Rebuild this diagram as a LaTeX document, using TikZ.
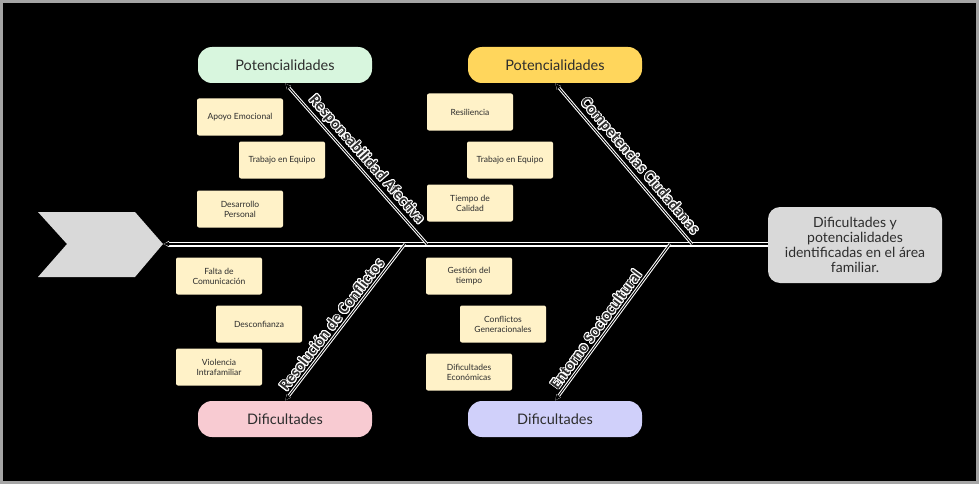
\documentclass[tikz,border=0pt]{standalone}
\usepackage{fontspec}
\setmainfont{Lato}
\newfontfamily\ramafont{Carlito}
\usepackage{contour}
\contourlength{0.9pt}
\usetikzlibrary{arrows.meta}
\definecolor{marco-gris}{RGB}{165,165,165}
\definecolor{caja-gris}{RGB}{217,217,217}
\definecolor{verde-pot}{RGB}{216,246,222}
\definecolor{amarillo-pot}{RGB}{255,214,92}
\definecolor{rosa-dif}{RGB}{248,203,210}
\definecolor{lila-dif}{RGB}{208,208,250}
\definecolor{crema}{RGB}{255,242,200}
\definecolor{texto}{RGB}{45,45,45}

\begin{document}
\begin{tikzpicture}[x=1pt, y=-1pt,
  pill/.style={rounded corners=14pt, minimum width=174pt, minimum height=36pt,
    font=\fontsize{14.5}{16}\selectfont, text=texto},
  causa/.style={fill=crema, rounded corners=2pt, minimum width=86pt,
    minimum height=37pt, align=center, inner sep=1pt, text=texto,
    font=\fontsize{8.5}{10}\selectfont},
  rama/.style={black, line width=0.9pt, {Latex[length=6pt,width=5pt]}-,
    preaction={draw=white, line width=3pt, {Latex[length=6pt,width=6pt]}-}},
  etiqueta/.style={sloped, above, inner sep=2.5pt, text=texto,
    font=\ramafont\bfseries\fontsize{16}{16}\selectfont}]
  % Fondo y marco
  \fill[marco-gris] (0,0) rectangle (979,484);
  \fill[black] (3,3) rectangle (976,481);

  % Cabeza (flecha gris)
  \fill[caja-gris] (38,212) -- (135,212) -- (163,244) -- (135,277)
    -- (38,277) -- (67,244) -- cycle;
  \coordinate (punta) at (163,244);

  % Efecto
  \node[fill=caja-gris, rounded corners=12pt, minimum width=174pt,
        minimum height=76pt, align=center, text=texto,
        font=\fontsize{14}{15}\selectfont] (efecto) at (855,245)
    {Dificultades y\\potencialidades\\identificadas en el área\\familiar.};

  % Espina central
  \draw[black, line width=1.6pt, {Latex[length=6pt,width=5pt]}-,
        preaction={draw=white, line width=5pt, {Latex[length=6pt,width=7pt]}-}]
    (punta) -- (efecto.west |- punta);
  \coordinate (e1) at (427,244);
  \coordinate (e2) at (692,244);
  \coordinate (e3) at (405,244);
  \coordinate (e4) at (670,244);

  % Categorias
  \node[pill, fill=verde-pot]    (pot1) at (285,65)  {Potencialidades};
  \node[pill, fill=amarillo-pot] (pot2) at (555,65)  {Potencialidades};
  \node[pill, fill=rosa-dif]     (dif1) at (285,419) {Dificultades};
  \node[pill, fill=lila-dif]     (dif2) at (555,419) {Dificultades};

  % Ramas
  \draw[rama] (pot1.south) -- (e1)
    node[etiqueta, pos=0.52] {\contour{white}{Responsabilidad Afectiva}};
  \draw[rama] (pot2.south) -- (e2)
    node[etiqueta, pos=0.56] {\contour{white}{Competencias Ciudadanas}};
  \draw[rama] (dif1.north) -- (e3)
    node[etiqueta, pos=0.45] {\contour{white}{Resolución de Conflictos}};
  \draw[rama] (dif2.north) -- (e4)
    node[etiqueta, pos=0.42] {\contour{white}{Entorno Sociocultural}};

  % Causas
  \foreach \nom/\pos/\lab in {
    c1/{240,117}/{Apoyo Emocional},
    c2/{282,160}/{Trabajo en Equipo},
    c3/{240,209}/{Desarrollo\\Personal},
    c4/{470,112}/{Resiliencia},
    c5/{510,160}/{Trabajo en Equipo},
    c6/{470,203}/{Tiempo de\\Calidad},
    c7/{219,276}/{Falta de\\Comunicación},
    c8/{259,324}/{Desconfianza},
    c9/{219,367}/{Violencia\\Intrafamiliar},
    c10/{469,276}/{Gestión del\\tiempo},
    c11/{503,324}/{Conflictos\\Generacionales},
    c12/{469,372}/{Dificultades\\Económicas}}{
    \node[causa] (\nom) at (\pos) {\lab};
  }
\end{tikzpicture}
\end{document}
